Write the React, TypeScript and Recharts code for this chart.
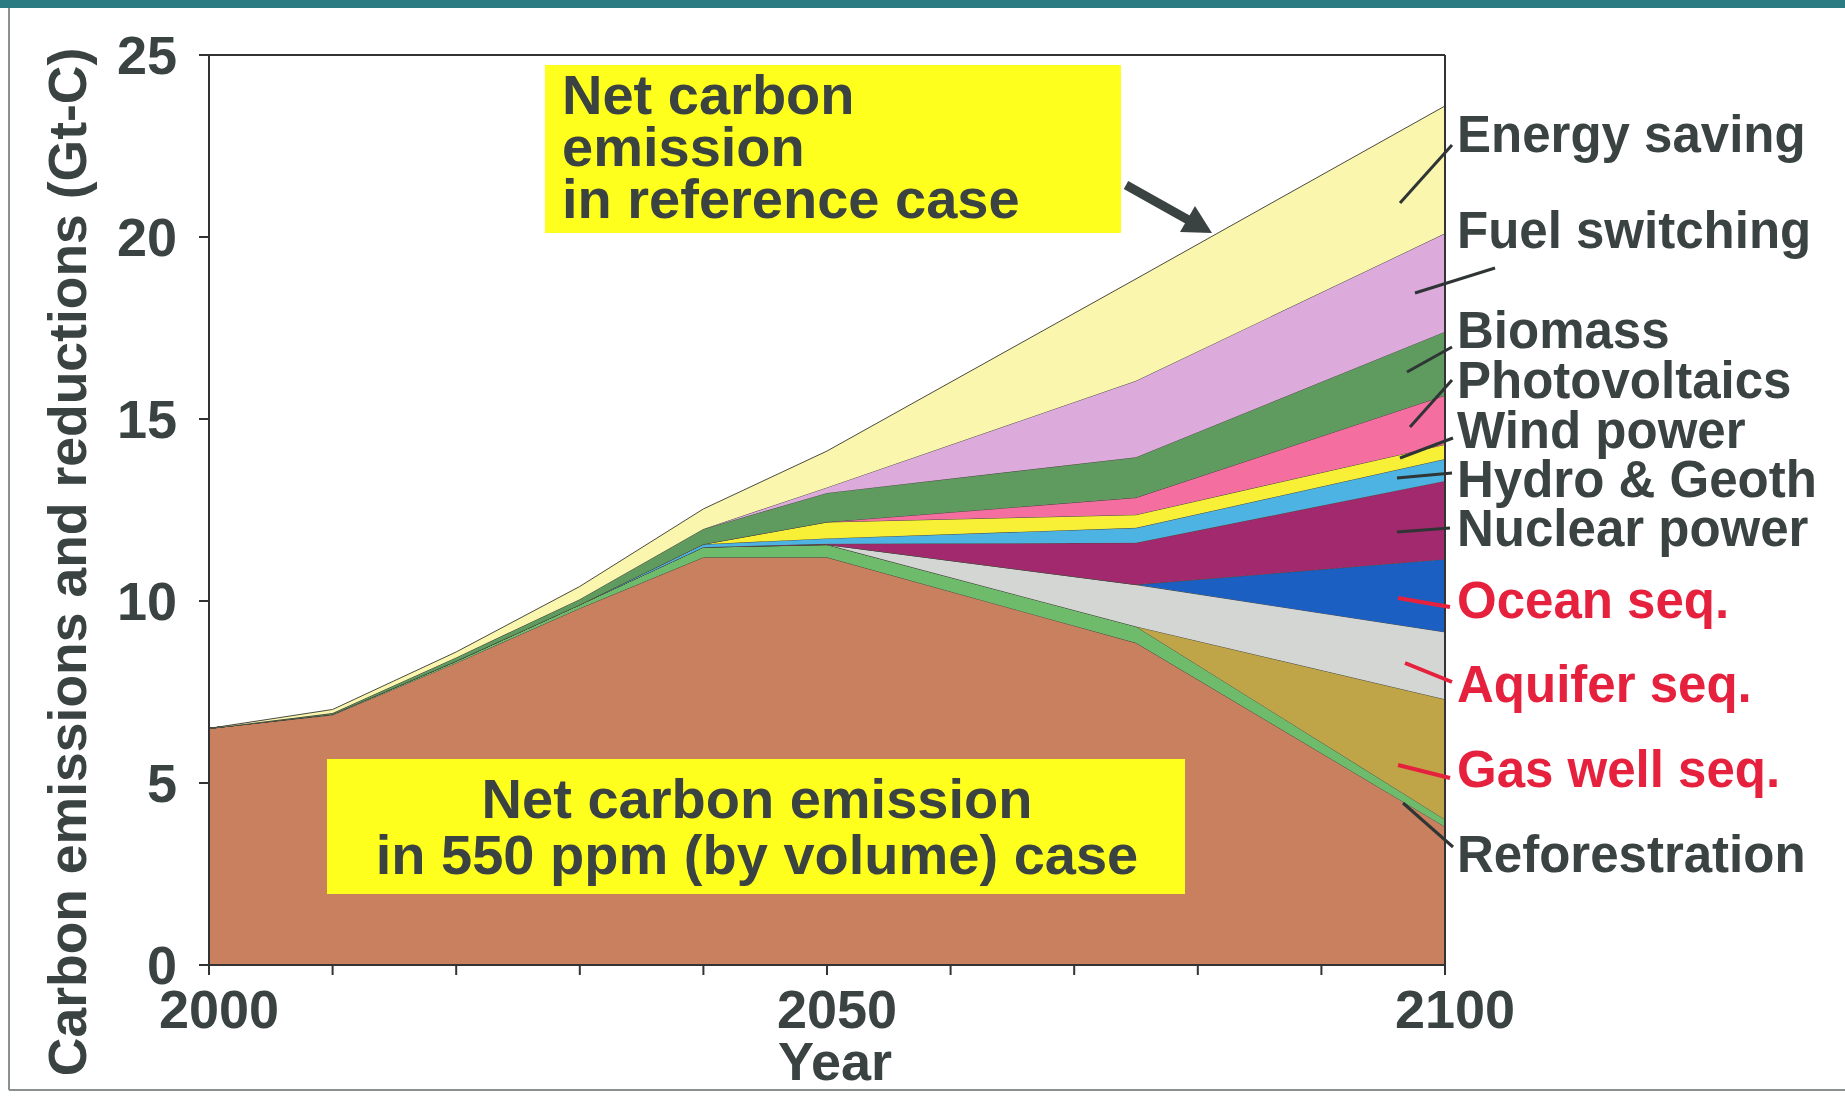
import React from 'react';
import { AreaChart, Area, XAxis, YAxis, ReferenceLine } from 'recharts';

const years = [2000, 2010, 2020, 2030, 2040, 2050, 2075, 2100];

// Stacked layers, bottom to top (Gt-C)
const netEmission550 = [6.5, 6.87, 8.3, 9.8, 11.2, 11.2, 8.85, 3.8];
const reforestation = [0, 0.02, 0.05, 0.1, 0.28, 0.35, 0.45, 0.2];
const gasWellSeq = [0, 0, 0, 0, 0, 0, 0, 3.3];
const aquiferSeq = [0, 0, 0, 0, 0, 0, 1.15, 1.85];
const oceanSeq = [0, 0, 0, 0, 0, 0, 0, 2.0];
const nuclearPower = [0, 0, 0, 0, 0, 0.02, 1.15, 2.15];
const hydroGeoth = [0, 0, 0, 0, 0.08, 0.15, 0.41, 0.6];
const windPower = [0, 0, 0, 0, 0, 0.45, 0.36, 0.4];
const photovoltaics = [0, 0, 0, 0, 0, 0, 0.47, 1.35];
const biomass = [0, 0.03, 0.1, 0.15, 0.42, 0.8, 1.11, 1.75];
const fuelSwitching = [0, 0, 0, 0, 0, 0.15, 2.1, 2.7];
const energySaving = [0, 0.1, 0.15, 0.35, 0.55, 1.0, 2.8, 3.5];

const yTicks = [0, 5, 10, 15, 20, 25];
const xTicks = [2000, 2010, 2020, 2030, 2040, 2050, 2060, 2070, 2080, 2090, 2100];
const xLabelled = [2000, 2050, 2100];

const series = [
  { key: 'net550', name: 'Net carbon emission in 550 ppm case', color: '#c8805e', values: netEmission550 },
  { key: 'refor', name: 'Reforestration', color: '#6dbb6b', values: reforestation },
  { key: 'gasWell', name: 'Gas well seq.', color: '#bfa548', values: gasWellSeq },
  { key: 'aquifer', name: 'Aquifer seq.', color: '#d3d6d3', values: aquiferSeq },
  { key: 'ocean', name: 'Ocean seq.', color: '#1c5fc2', values: oceanSeq },
  { key: 'nuclear', name: 'Nuclear power', color: '#a3296e', values: nuclearPower },
  { key: 'hydro', name: 'Hydro & Geoth', color: '#4db3e2', values: hydroGeoth },
  { key: 'wind', name: 'Wind power', color: '#f7f036', values: windPower },
  { key: 'pv', name: 'Photovoltaics', color: '#f46ea0', values: photovoltaics },
  { key: 'biomass', name: 'Biomass', color: '#5f9a5f', values: biomass },
  { key: 'fuel', name: 'Fuel switching', color: '#dcaadb', values: fuelSwitching },
  { key: 'energy', name: 'Energy saving', color: '#fbf6ae', values: energySaving },
];

const chartData = years.map((year, i) => {
  const row: Record<string, number> = { year };
  series.forEach(s => { row[s.key] = s.values[i]; });
  return row;
});

const INK = '#3a4242';
const RED = '#e6213d';
const FONT = '"Liberation Sans", Arial, Helvetica, sans-serif';

// Right-hand labels with their leader lines
const sideLabels = [
  { text: 'Energy saving', y: 152, color: INK, line: [1400, 203, 1452, 145] },
  { text: 'Fuel switching', y: 248, color: INK, line: [1415, 293, 1495, 268] },
  { text: 'Biomass', y: 348, color: INK, line: [1407, 372, 1452, 347] },
  { text: 'Photovoltaics', y: 398, color: INK, line: [1410, 427, 1452, 380] },
  { text: 'Wind power', y: 448, color: INK, line: [1400, 458, 1453, 438] },
  { text: 'Hydro & Geoth', y: 497, color: INK, line: [1397, 478, 1452, 473] },
  { text: 'Nuclear power', y: 546, color: INK, line: [1397, 532, 1450, 528] },
  { text: 'Ocean seq.', y: 618, color: RED, line: [1398, 598, 1450, 607] },
  { text: 'Aquifer seq.', y: 702, color: RED, line: [1405, 663, 1452, 682] },
  { text: 'Gas well seq.', y: 787, color: RED, line: [1398, 765, 1450, 778] },
  { text: 'Reforestration', y: 872, color: INK, line: [1403, 803, 1453, 847] },
];

const YTick = ({ x, y, payload }: any) => (
  <text x={x} y={y} textAnchor="end" dominantBaseline="central"
    fill={INK} fontFamily={FONT} fontWeight="bold" fontSize={54}>
    {payload.value}
  </text>
);

const XTick = ({ x, y, payload }: any) => {
  if (!xLabelled.includes(payload.value)) return null;
  return (
    <text x={x + 10} y={y} textAnchor="middle" fill={INK}
      fontFamily={FONT} fontWeight="bold" fontSize={54}>
      {payload.value}
    </text>
  );
};

export default function App() {
  return (
    <div style={{ position: 'absolute', left: 0, top: 0, width: 1845, height: 1096, background: '#fff', overflow: 'hidden' }}>
      <div style={{ position: 'absolute', left: 0, top: 0 }}>
        <AreaChart width={1845} height={1096} data={chartData}
          margin={{ top: 55, right: 400, bottom: 0, left: 0 }}>
          <XAxis type="number" dataKey="year" domain={[2000, 2100]} ticks={xTicks}
            height={131} tickSize={10} tickMargin={53} tick={<XTick />}
            axisLine={{ stroke: '#333', strokeWidth: 2 }} tickLine={{ stroke: '#333', strokeWidth: 2 }} />
          <YAxis type="number" domain={[0, 25]} ticks={yTicks} width={209}
            tickSize={10} tickMargin={22} tick={<YTick />}
            axisLine={{ stroke: '#333', strokeWidth: 2 }} tickLine={{ stroke: '#333', strokeWidth: 2 }} />
          {series.map(s => (
            <Area key={s.key} type="linear" dataKey={s.key} name={s.name} stackId="1"
              stroke="#4a4a40" strokeWidth={1} fill={s.color} fillOpacity={1}
              isAnimationActive={false} dot={false} activeDot={false} />
          ))}
          <ReferenceLine y={25} stroke="#333" strokeWidth={2} />
          <ReferenceLine x={2100} stroke="#333" strokeWidth={2} />
        </AreaChart>
      </div>

      <svg width={1845} height={1096} style={{ position: 'absolute', left: 0, top: 0, pointerEvents: 'none' }}>
        {/* frame */}
        <rect x={0} y={0} width={1845} height={8} fill="#2b7b83" />
        <line x1={9} y1={8} x2={9} y2={1090} stroke="#8a8f8f" strokeWidth={2} />
        <line x1={9} y1={1090} x2={1845} y2={1090} stroke="#8a8f8f" strokeWidth={2} />

        {/* axis titles */}
        <text transform="translate(86,562) rotate(-90)" textAnchor="middle" fill={INK}
          fontFamily={FONT} fontWeight="bold" fontSize={53.5}>
          Carbon emissions and reductions (Gt-C)
        </text>
        <text x={835} y={1080} textAnchor="middle" fill={INK} fontFamily={FONT} fontWeight="bold" fontSize={54}>
          Year
        </text>

        {/* reference case box */}
        <rect x={545} y={65} width={576} height={168} fill="#ffff1e" />
        <g fill={INK} fontFamily={FONT} fontWeight="bold" fontSize={56}>
          <text x={562} y={114}>Net carbon</text>
          <text x={562} y={166}>emission</text>
          <text x={562} y={218}>in reference case</text>
        </g>
        <line x1={1126} y1={185} x2={1192} y2={222} stroke={INK} strokeWidth={9} />
        <polygon points="1212,233 1180,232 1195,206" fill={INK} />

        {/* 550 ppm box */}
        <rect x={327} y={759} width={858} height={135} fill="#ffff1e" />
        <g fill={INK} fontFamily={FONT} fontWeight="bold" fontSize={56} textAnchor="middle">
          <text x={757} y={818}>Net carbon emission</text>
          <text x={757} y={874}>in 550 ppm (by volume) case</text>
        </g>

        {/* side labels */}
        {sideLabels.map(l => (
          <g key={l.text}>
            <line x1={l.line[0]} y1={l.line[1]} x2={l.line[2]} y2={l.line[3]}
              stroke={l.color === RED ? RED : '#2f3535'} strokeWidth={l.color === RED ? 4 : 3} />
            <text x={1457} y={l.y} fill={l.color} fontFamily={FONT} fontWeight="bold" fontSize={51}>
              {l.text}
            </text>
          </g>
        ))}
      </svg>
    </div>
  );
}
